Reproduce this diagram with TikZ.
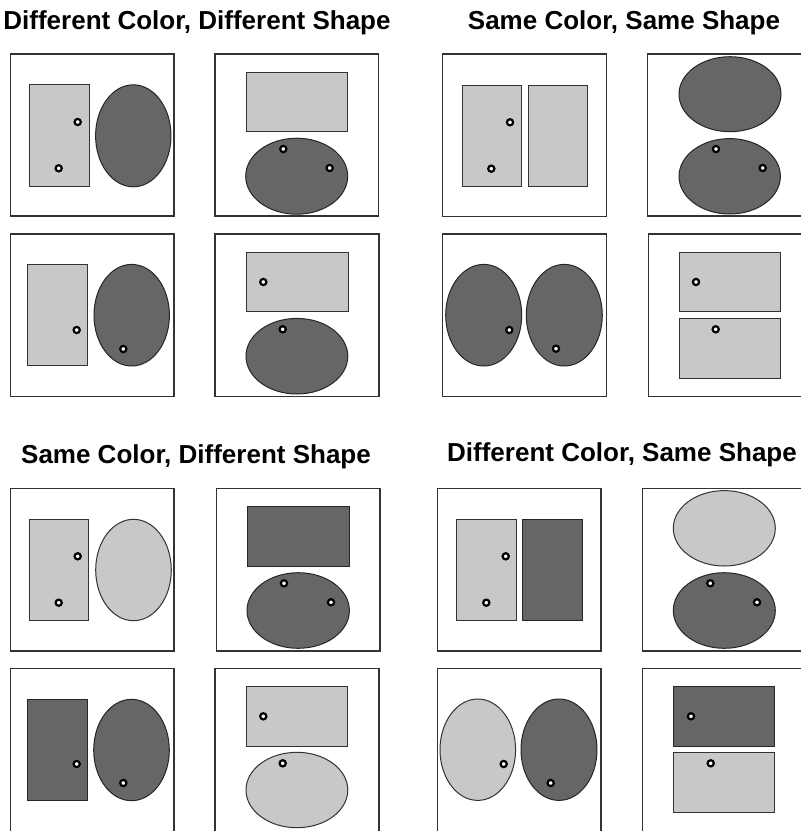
\documentclass[tikz,border=0pt]{standalone}
\usepackage{fontspec}
\setmainfont{Liberation Sans}
\definecolor{lightfill}{HTML}{C8C8C8}
\definecolor{darkfill}{HTML}{666666}
\definecolor{edgecol}{HTML}{333333}
\tikzset{
  frame/.style={draw=edgecol, line width=1.3pt, fill=white},
  lightshape/.style={draw=edgecol, line width=1pt, fill=lightfill},
  darkshape/.style={draw=black!85, line width=1pt, fill=darkfill},
  probe/.style={draw=black, line width=2.2pt, fill=white},
  heading/.style={font=\fontsize{26}{29}\selectfont\bfseries, inner sep=0pt, anchor=base}
}
\newcommand\Pframe[4]{\draw[frame] (#1,#2) rectangle (#3,#4);}
\newcommand\Prect[5]{\draw[#5] (#1,#2) rectangle (#3,#4);}
\newcommand\Pell[5]{\draw[#5] (#1,#2) ellipse [x radius=#3, y radius=#4];}
\newcommand\Pdot[2]{\draw[probe] (#1,#2) circle [radius=3.1];}
\begin{document}
\begin{tikzpicture}[x=1pt,y=-1pt]
\useasboundingbox (0,0) rectangle (801,831);
\clip (0,0) rectangle (801,831);
% headings
\node[heading] (h1) at (197,29) {Different Color, Different Shape};
\node[heading] (h2) at (624,29) {Same Color, Same Shape};
\node[heading] (h3) at (196,463) {Same Color, Different Shape};
\node[heading] (h4) at (622,461) {Different Color, Same Shape};
% Panel 1
\Pframe{10.5}{54}{174}{216}
\Prect{29}{84}{89}{186}{lightshape}
\Pell{133.3}{135.8}{37.7}{51}{darkshape}
\Pdot{77.7}{122}\Pdot{58.7}{168.3}
% Panel 2
\Pframe{215}{54}{378.5}{216}
\Prect{246}{72.3}{347.7}{131.7}{lightshape}
\Pell{296.7}{176.2}{51}{38}{darkshape}
\Pdot{283.3}{149}\Pdot{329.7}{168}
% Panel 3
\Pframe{442.7}{54}{606.7}{216.5}
\Prect{462.3}{85}{521.7}{186}{lightshape}
\Prect{528.3}{85}{587.7}{186}{lightshape}
\Pdot{510}{122.3}\Pdot{491.3}{168.7}
% Panel 4
\Pframe{647.7}{54}{812}{216}
\Pell{730}{94.2}{51}{37.5}{darkshape}
\Pell{729.7}{176.3}{50.7}{37.7}{darkshape}
\Pdot{716}{149}\Pdot{762.7}{168}
% Panel 5
\Pframe{10.7}{234}{174}{396.7}
\Prect{27.3}{264.3}{87.3}{365.7}{lightshape}
\Pell{131.7}{315.2}{37.7}{50.8}{darkshape}
\Pdot{76.7}{330}\Pdot{123.3}{349}
% Panel 6
\Pframe{215}{234}{379}{396.7}
\Prect{246}{252.3}{348}{311.7}{lightshape}
\Pell{296.9}{356.2}{50.9}{37.8}{darkshape}
\Pdot{263.3}{282}\Pdot{282.7}{329.3}
% Panel 7
\Pframe{442.7}{234}{606.7}{396.7}
\Pell{483.7}{315.2}{38}{50.8}{darkshape}
\Pell{564.3}{315.2}{38}{50.8}{darkshape}
\Pdot{509.3}{330}\Pdot{556}{348.7}
% Panel 8
\Pframe{648.3}{234}{812}{396.7}
\Prect{679}{252.3}{780.7}{311.7}{lightshape}
\Prect{679}{318.7}{780.7}{378}{lightshape}
\Pdot{696}{282}\Pdot{715.7}{329.3}
% Panel 9
\Pframe{10.7}{488.3}{174}{651}
\Prect{29.3}{519.3}{88.7}{620}{lightshape}
\Pell{133.5}{570}{37.8}{50.7}{lightshape}
\Pdot{77.7}{556.3}\Pdot{58.7}{602.7}
% Panel 10
\Pframe{216.7}{488.3}{380}{651}
\Prect{247.3}{506.7}{349.3}{566}{darkshape}
\Pell{298.2}{610.5}{51.2}{37.8}{darkshape}
\Pdot{284}{583.3}\Pdot{331}{602.3}
% Panel 11
\Pframe{437.7}{488.3}{601}{651}
\Prect{456.7}{519.3}{516.3}{620}{lightshape}
\Prect{522.7}{519.3}{582.3}{620}{darkshape}
\Pdot{505.7}{556.3}\Pdot{486.3}{602.7}
% Panel 12
\Pframe{642.3}{488.3}{812}{651}
\Pell{724.3}{528.3}{51}{37.7}{lightshape}
\Pell{724.3}{610.5}{51}{37.8}{darkshape}
\Pdot{710.3}{583.3}\Pdot{757}{602.3}
% Panel 13
\Pframe{10.7}{668.3}{174}{840}
\Prect{27.7}{699.3}{87.3}{800}{darkshape}
\Pell{131.5}{750}{37.8}{50.7}{darkshape}
\Pdot{76.7}{764}\Pdot{123.3}{783}
% Panel 14
\Pframe{215}{668.3}{379}{840}
\Prect{246}{686.7}{347.7}{746}{lightshape}
\Pell{296.9}{790}{50.9}{37.7}{lightshape}
\Pdot{263.3}{716.3}\Pdot{282.7}{763.3}
% Panel 15
\Pframe{437.7}{668.3}{601}{840}
\Pell{477.8}{749.7}{37.8}{50.7}{lightshape}
\Pell{559}{749.7}{38}{50.7}{darkshape}
\Pdot{503.7}{764}\Pdot{550.7}{783}
% Panel 16
\Pframe{642.3}{668.3}{812}{840}
\Prect{673.7}{686.7}{774.7}{746}{darkshape}
\Prect{673.3}{752.7}{774.7}{812.3}{lightshape}
\Pdot{691}{716.3}\Pdot{710.7}{763.3}
\end{tikzpicture}
\end{document}
